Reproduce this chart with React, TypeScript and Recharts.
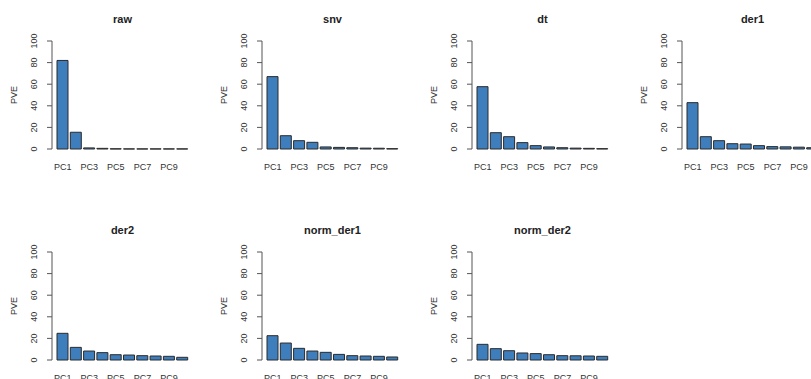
import { Bar, BarChart, Label, XAxis, YAxis } from 'recharts';

// PCA explained-variance panels, one per preprocessing method.
const components = ['PC1', 'PC2', 'PC3', 'PC4', 'PC5', 'PC6', 'PC7', 'PC8', 'PC9', 'PC10'];
const yTicks = [0, 20, 40, 60, 80, 100];

const raw = [82, 15.5, 1, 0.6, 0.2, 0.1, 0.1, 0.1, 0.1, 0.1];
const snv = [67, 12.3, 7.7, 6.2, 1.9, 1.5, 1.2, 0.8, 0.7, 0.3];
const dt = [57.7, 15.1, 11.4, 5.9, 3.1, 1.9, 1.2, 0.8, 0.6, 0.3];
const der1 = [42.9, 11.4, 7.7, 4.9, 4.6, 3.1, 2.2, 2.0, 1.7, 1.2];
const der2 = [24.7, 11.7, 8.3, 6.8, 4.9, 4.6, 4.0, 3.7, 3.4, 2.5];
const normDer1 = [22.5, 15.7, 10.8, 8.3, 7.1, 5.2, 4.0, 3.7, 3.4, 2.8];
const normDer2 = [14.5, 10.5, 8.6, 6.5, 5.9, 4.9, 4.0, 3.9, 3.7, 3.4];

const panels = [
  { title: 'raw', values: raw },
  { title: 'snv', values: snv },
  { title: 'dt', values: dt },
  { title: 'der1', values: der1 },
  { title: 'der2', values: der2 },
  { title: 'norm_der1', values: normDer1 },
  { title: 'norm_der2', values: normDer2 },
];

const PANEL_W = 210;
const PANEL_H = 211;
const FONT = '"Liberation Sans", Arial, sans-serif';
const TEXT = '#333';

function XTick({ x, y, payload, index }: any) {
  if (index % 2 !== 0) return null;
  return (
    <text x={x} y={y + 21} textAnchor="middle" fontSize={9} fontFamily={FONT} fill={TEXT}>
      {payload.value}
    </text>
  );
}

function YTick({ x, y, payload }: any) {
  return (
    <text
      x={x}
      y={y}
      transform={`rotate(-90, ${x}, ${y})`}
      textAnchor="middle"
      fontSize={9}
      fontFamily={FONT}
      fill={TEXT}
    >
      {payload.value}
    </text>
  );
}

function PveLabel({ viewBox }: any) {
  const cy = viewBox.y + viewBox.height / 2;
  return (
    <text x={17} y={cy} transform={`rotate(-90, 17, ${cy})`} textAnchor="middle" fontSize={9} fontFamily={FONT} fill={TEXT}>
      PVE
    </text>
  );
}

function Panel({ title, values, left, top }: { title: string; values: number[]; left: number; top: number }) {
  const data = components.map((pc, i) => ({ pc, pve: values[i] }));
  return (
    <div style={{ position: 'absolute', left, top, width: PANEL_W, height: PANEL_H }}>
      <div
        style={{
          position: 'absolute',
          left: 52,
          width: 141,
          top: 13,
          textAlign: 'center',
          fontFamily: FONT,
          fontWeight: 'bold',
          fontSize: 11,
          color: '#222',
        }}
      >
        {title}
      </div>
      <BarChart
        width={PANEL_W}
        height={PANEL_H}
        data={data}
        margin={{ top: 41, right: 17, left: 12, bottom: 32 }}
        barCategoryGap={1}
      >
        <XAxis
          dataKey="pc"
          axisLine={false}
          tickLine={false}
          tickSize={0}
          tickMargin={0}
          height={30}
          interval={0}
          padding={{ left: 4, right: 4 }}
          tick={<XTick />}
        />
        <YAxis
          domain={[0, 100]}
          ticks={yTicks}
          interval={0}
          width={40}
          tickSize={5}
          tickMargin={10}
          stroke="#555"
          tick={<YTick />}
        >
          <Label content={<PveLabel />} />
        </YAxis>
        <Bar dataKey="pve" fill="#3F7EBD" stroke="#2a2a2a" strokeWidth={1} isAnimationActive={false} />
      </BarChart>
    </div>
  );
}

export default function App() {
  return (
    <div style={{ position: 'absolute', left: 0, top: 0, width: 811, height: 379, overflow: 'hidden', background: '#fff' }}>
      {panels.map((p, i) => (
        <Panel
          key={p.title}
          title={p.title}
          values={p.values}
          left={(i % 4) * PANEL_W}
          top={Math.floor(i / 4) * PANEL_H}
        />
      ))}
    </div>
  );
}
